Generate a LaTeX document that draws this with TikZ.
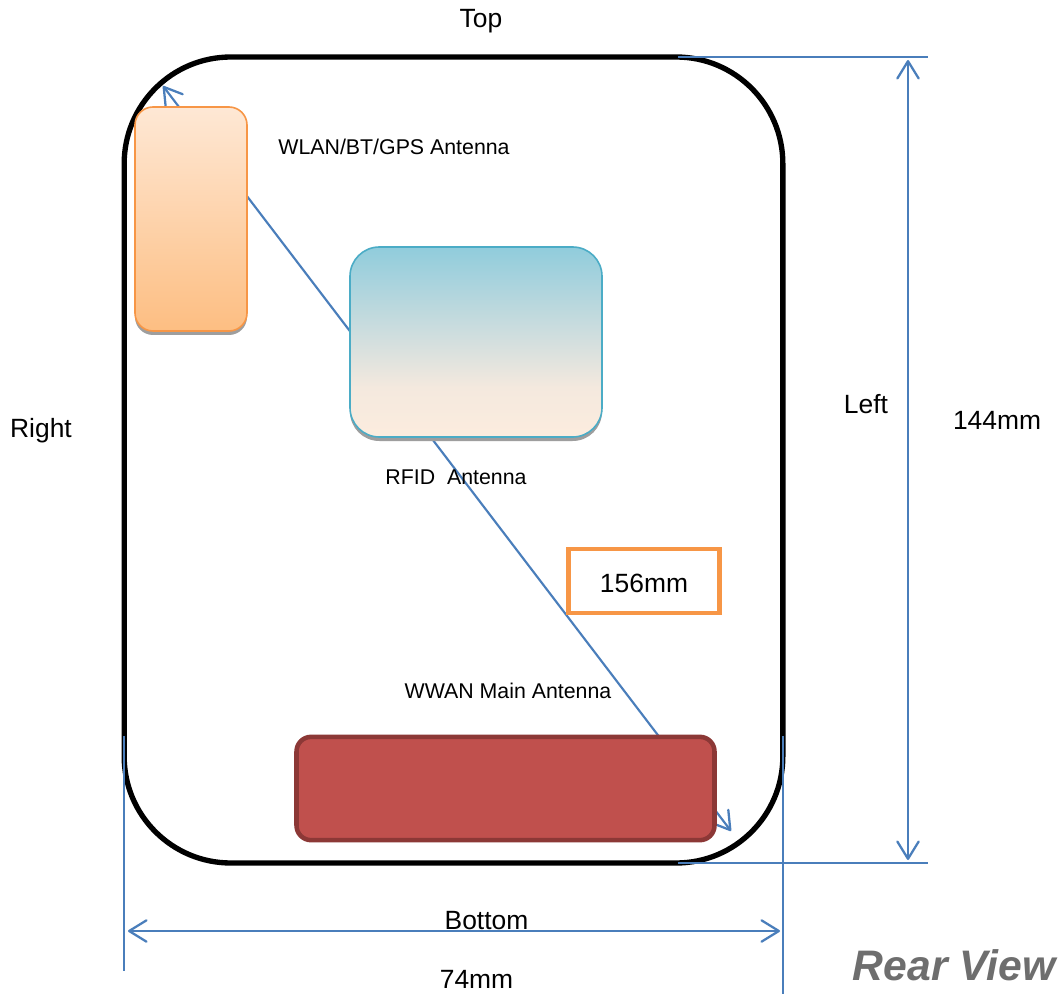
\documentclass[tikz,border=0pt]{standalone}
\usepackage{fontspec}
\setmainfont{Liberation Sans}
\usetikzlibrary{arrows.meta}
\definecolor{dimblue}{HTML}{4A7EBB}
\definecolor{orangeline}{RGB}{247,150,70}
\definecolor{tealline}{RGB}{75,172,198}
\definecolor{darkred}{RGB}{140,56,54}
\definecolor{redfill}{RGB}{192,80,77}
\definecolor{greytext}{RGB}{110,110,110}
\definecolor{rfidtop}{RGB}{144,204,220}
\definecolor{rfidmid}{RGB}{212,223,222}
\definecolor{rfidlow}{RGB}{244,233,222}
\definecolor{rfidbot}{RGB}{252,236,222}
\definecolor{wlantop}{RGB}{254,232,213}
\definecolor{wlanbot}{RGB}{253,190,130}
\pgfdeclareverticalshading{rfidshade}{100bp}{color(0bp)=(rfidbot); color(25bp)=(rfidbot); color(38bp)=(rfidlow); color(50bp)=(rfidmid); color(75bp)=(rfidtop); color(100bp)=(rfidtop)}
\tikzset{
 x=0.75pt,y=-0.75pt,
 barb/.tip={Straight Barb[length=13pt,width=16pt,line width=1.7pt,round]},
 dim/.style={draw=dimblue,line width=1.6pt},
 dimthin/.style={draw=dimblue,line width=1.1pt},
 dimarrow/.style={dim,barb-barb},
 lab/.style={font=\fontsize{19.8pt}{22pt}\selectfont,text=black,inner sep=0pt},
 slab/.style={font=\fontsize{16pt}{18pt}\selectfont,text=black,inner sep=0pt},
 shadowbox/.style={fill=black!38,inner sep=0pt},
}
\begin{document}
\begin{tikzpicture}
\useasboundingbox (0,0) rectangle (1059,994);
\fill[white] (0,0) rectangle (1059,994);
% body
\node[draw=black,line width=4pt,rounded corners=80pt,minimum width=494pt,minimum height=604.5pt,inner sep=0pt] (body) at (453.5,460) {};
% diagonal
\coordinate (d1) at (163,86);
\coordinate (d2) at (731,831);
\draw[dim,barb-barb] (d1) -- (d2);
% antennas
\node[shadowbox,rounded corners=13.5pt,minimum width=84pt,minimum height=168pt] (as1) at (191,223) {};
\node[draw=orangeline,line width=1.2pt,top color=wlantop,bottom color=wlanbot,rounded corners=13.5pt,minimum width=84pt,minimum height=168pt,inner sep=0pt] (wlan) at (191,219) {};
\node[shadowbox,rounded corners=22pt,minimum width=189pt,minimum height=142.5pt] (rs) at (476,346) {};
\node[draw=tealline,line width=1.2pt,shading=rfidshade,rounded corners=22pt,minimum width=189pt,minimum height=142.5pt,inner sep=0pt] (rfid) at (476,342) {};
\node[draw=darkred,line width=3.4pt,fill=redfill,rounded corners=11pt,minimum width=313.5pt,minimum height=77.5pt,inner sep=0pt] (wwan) at (505.5,788.5) {};
\node[draw=orangeline,line width=3.7pt,minimum width=113pt,minimum height=48pt,inner sep=0pt,fill=white] (box) at (644,581) {};
% dims
\coordinate (ht) at (678,57); \coordinate (htr) at (928,57);
\coordinate (hb) at (678,863); \coordinate (hbr) at (928,863);
\draw[dimthin] (ht)--(htr); \draw[dimthin] (hb)--(hbr);
\coordinate (va) at (908,60); \coordinate (vb) at (908,860);
\draw[dimarrow] (va)--(vb);
\coordinate (la) at (124,736); \coordinate (lb) at (124,971);
\coordinate (ra) at (783,736); \coordinate (rb) at (783,994);
\draw[dimthin] (la)--(lb); \draw[dimthin] (ra)--(rb);
\coordinate (ha) at (128,931); \coordinate (hc) at (780,931);
\draw[dimarrow] (ha)--(hc);
% labels
\node[lab] (t1) at (481,21) {Top};
\node[lab] (t2) at (41,431) {Right};
\node[lab] (t3) at (866,404) {Left};
\node[lab] (t4) at (997,420) {144mm};
\node[lab] (t5) at (486.5,921) {Bottom};
\node[lab] (t6) at (476.5,979) {74mm};
\node[lab] (t7) at (644,583) {156mm};
\node[slab] (t8) at (394,147) {WLAN/BT/GPS Antenna};
\node[slab] (t9) at (456,477) {RFID\ \ Antenna};
\node[slab] (t10) at (508,691) {WWAN Main Antenna};
\node[inner sep=0pt,text=greytext,font=\fontsize{32pt}{34pt}\selectfont\bfseries\itshape] (t11) at (954,965) {Rear View};
\end{tikzpicture}
\end{document}
